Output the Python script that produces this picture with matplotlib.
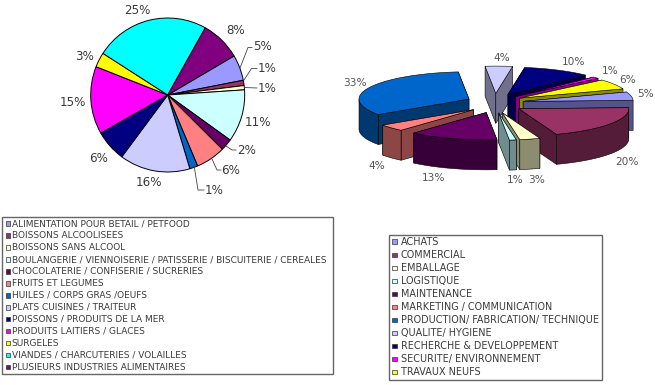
import numpy as np
import matplotlib
matplotlib.use('Agg')
import matplotlib.pyplot as plt
from matplotlib.colors import to_rgb
from matplotlib.patches import Polygon, Rectangle

# left pie: printed labels, and the shares
food_names = ['ALIMENTATION POUR BETAIL / PETFOOD', 'BOISSONS ALCOOLISEES', 'BOISSONS SANS ALCOOL',
              'BOULANGERIE / VIENNOISERIE / PATISSERIE / BISCUITERIE / CEREALES',
              'CHOCOLATERIE / CONFISERIE / SUCRERIES', 'FRUITS ET LEGUMES', 'HUILES / CORPS GRAS /OEUFS',
              'PLATS CUISINES / TRAITEUR', 'POISSONS / PRODUITS DE LA MER', 'PRODUITS LAITIERS / GLACES',
              'SURGELES', 'VIANDES / CHARCUTERIES / VOLAILLES', 'PLUSIEURS INDUSTRIES ALIMENTAIRES']
food_shares = [5.4, 1.1, 0.9, 11, 2.5, 6.2, 1.7, 14.8, 6.6, 14.2, 3.1, 24, 8.4]
food_labels = ['5%', '1%', '1%', '11%', '2%', '6%', '1%', '16%', '6%', '15%', '3%', '25%', '8%']
food_colors = ['#9999FF', '#993366', '#FFFFCC', '#CCFFFF', '#660066', '#FF8080', '#0066CC',
               '#CCCCFF', '#000080', '#FF00FF', '#FFFF00', '#00FFFF', '#800080']

# right pie
job_names = ['ACHATS', 'COMMERCIAL', 'EMBALLAGE', 'LOGISTIQUE', 'MAINTENANCE', 'MARKETING / COMMUNICATION',
             'PRODUCTION/ FABRICATION/ TECHNIQUE', 'QUALITE/ HYGIENE', 'RECHERCHE & DEVELOPPEMENT',
             'SECURITE/ ENVIRONNEMENT', 'TRAVAUX NEUFS']
job_values = [5, 20, 3, 1, 13, 4, 33, 4, 10, 1, 6]
job_colors = food_colors[:11]

# label spots, in reference pixels
food_label_xy = [(262, 47), (267, 68), (267, 88), (258, 122), (247, 150), (231, 171), (214, 190),
                 (149, 183), (99, 158), (73, 103), (84, 57), (137, 10), (236, 30)]
job_label_xy = [(646, 94), (627, 162), (537, 180), (515, 180), (434, 178), (377, 166), (355, 83),
                (502, 58), (574, 62), (610, 71), (628, 80)]
leaders = [[(240, 68), (248, 47.5), (252, 47.5)], [(244, 80), (251.5, 68.5), (257, 68.5)],
           [(245, 87.5), (257, 88)], [(226, 146), (232, 150), (236, 150)],
           [(212, 159), (217, 170), (221, 170)], [(194, 165), (198, 190), (204, 190)]]

H = 385
TXT = '#3a3a3a'
plt.rcParams['font.family'] = 'DejaVu Sans'
fig = plt.figure(figsize=(6.55, 3.85), dpi=100)
ax = fig.add_axes([0, 0, 1, 1])

# flat pie
ax.pie(food_shares, colors=food_colors, startangle=30.5, counterclock=False, center=(167.7, H - 95),
       radius=77, frame=True, wedgeprops=dict(edgecolor='black', linewidth=0.7))
for lab, (x, y) in zip(food_labels, food_label_xy):
    ax.text(x, H - y, lab, ha='center', va='center', fontsize=8.6, color=TXT)
for pts in leaders:
    ax.plot([p[0] for p in pts], [H - p[1] for p in pts], color='#444444', lw=0.6)


def project(cx, cy, a):
    return cx + 110 * np.cos(a), cy + 27.3 * np.sin(a)


def face(xs, ys, col, z):
    ax.add_patch(Polygon(np.column_stack([xs, ys]), closed=True, facecolor=col, edgecolor='black',
                         linewidth=0.4, zorder=z))


# exploded 3d pie, angles come from the values
depth = 30
edges = np.radians(20 - 3.6 * np.cumsum([0] + job_values))
slices = []
for i in range(len(job_values)):
    a0, a1 = edges[i], edges[i + 1]
    mid = (a0 + a1) / 2
    cx = 495 + 28.7 * np.cos(mid)
    cy = H - 103.2 + 9.8 * np.sin(mid)
    slices.append((np.sin(mid), i, a0, a1, cx, cy))

# back slices first
for n, (_, i, a0, a1, cx, cy) in enumerate(sorted(slices, key=lambda s: -s[0])):
    top = job_colors[i]
    side = tuple(c * 0.55 for c in to_rgb(top))
    z = 3 + n
    arc = np.linspace(a0, a1, 80)
    ex, ey = project(cx, cy, arc)
    # two cut faces, the upper one first
    cuts = sorted([a0, a1], key=lambda a: -np.sin(a))
    for a in cuts:
        rx, ry = project(cx, cy, a)
        face([cx, rx, rx, cx], [cy, ry, ry - depth, cy - depth], side, z)
    front = np.sin(arc) < 0
    if front.any():
        fx, fy = ex[front], ey[front]
        face(np.r_[fx, fx[::-1]], np.r_[fy, fy[::-1] - depth], side, z)
    face(np.r_[cx, ex], np.r_[cy, ey], top, z)

for val, (x, y) in zip(job_values, job_label_xy):
    ax.text(x, H - y, f'{val}%', ha='center', va='center', fontsize=7.6, color='#555555', zorder=30)


def legend_box(names, colors, box, y0, step, swatch_x, text_x, size):
    x0, y_top, x1, y_bot = box
    ax.add_patch(Rectangle((x0, H - y_bot), x1 - x0, y_bot - y_top, facecolor='white', edgecolor='#666666',
                           linewidth=1.0, zorder=40))
    for k, (name, col) in enumerate(zip(names, colors)):
        y = y0 + k * step
        ax.add_patch(Rectangle((swatch_x, H - y - 2.2), 4.4, 4.4, facecolor=col, edgecolor='#333333',
                               linewidth=0.5, zorder=41))
        ax.text(text_x, H - y, name, ha='left', va='center', fontsize=size, color=TXT, zorder=41)


legend_box(food_names, food_colors, (2, 217, 333, 374), 223.7, 11.95, 5.5, 11.7, 6.45)
legend_box(job_names, job_colors, (389.3, 235, 601.7, 380.3), 241.7, 13.03, 392.4, 400.7, 6.95)

ax.set_xlim(0, 655)
ax.set_ylim(0, H)
ax.axis('off')
fig.savefig('out.png', dpi=100, facecolor='white')
